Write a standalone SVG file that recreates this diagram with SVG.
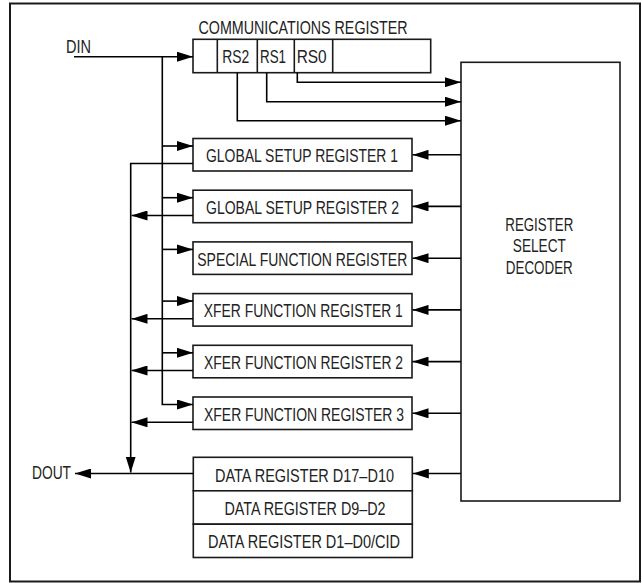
<svg xmlns="http://www.w3.org/2000/svg" width="642" height="583" viewBox="0 0 642 583">
<defs>
<style>
.box{fill:#fff;stroke:#1a1a1a;stroke-width:1.6}
.frame{fill:#fff;stroke:#1a1a1a;stroke-width:2}
.wire{fill:none;stroke:#000;stroke-width:1.6}
text{font-family:"Liberation Sans Narrow","Liberation Sans",Arial,sans-serif;font-size:18px;fill:#222}
.c{text-anchor:middle}
</style>
<marker id="ah" viewBox="0 0 16 10" refX="16" refY="5" markerWidth="16" markerHeight="10" markerUnits="userSpaceOnUse" orient="auto">
<path d="M0,0 L16,5 L0,10 z" fill="#000"/>
</marker>
</defs>
<rect class="frame" x="10" y="3.5" width="630" height="578"/>

<g id="comm-register">
<text class="c" x="303" y="34.3" textLength="209" lengthAdjust="spacingAndGlyphs">COMMUNICATIONS REGISTER</text>
<rect class="box" x="193" y="39.3" width="237.7" height="33.4"/>
<line class="box" x1="217.3" y1="39.3" x2="217.3" y2="72.7"/>
<line class="box" x1="257.3" y1="39.3" x2="257.3" y2="72.7"/>
<line class="box" x1="294.3" y1="39.3" x2="294.3" y2="72.7"/>
<line class="box" x1="332.7" y1="39.3" x2="332.7" y2="72.7"/>
<text x="222.3" y="63.3" textLength="27" lengthAdjust="spacingAndGlyphs">RS2</text>
<text x="260" y="63.3" textLength="26" lengthAdjust="spacingAndGlyphs">RS1</text>
<text x="296.7" y="63.3" textLength="30" lengthAdjust="spacingAndGlyphs">RS0</text>
</g>

<g id="din"><text x="66" y="52.5" textLength="25" lengthAdjust="spacingAndGlyphs">DIN</text></g>
<g id="dout"><text x="32" y="479" textLength="39" lengthAdjust="spacingAndGlyphs">DOUT</text></g>

<g id="decoder">
<rect class="box" x="461" y="62.3" width="159" height="438.7"/>
<text class="c" x="539.3" y="230.7" textLength="68" lengthAdjust="spacingAndGlyphs">REGISTER</text>
<text class="c" x="539.3" y="252.3" textLength="53" lengthAdjust="spacingAndGlyphs">SELECT</text>
<text class="c" x="539.3" y="273.6" textLength="67" lengthAdjust="spacingAndGlyphs">DECODER</text>
</g>

<g id="gsr1">
<rect class="box" x="193" y="138.5" width="219" height="32.5"/>
<text class="c" x="302" y="162.3" textLength="192" lengthAdjust="spacingAndGlyphs">GLOBAL SETUP REGISTER 1</text>
</g>
<g id="gsr2">
<rect class="box" x="193" y="190.2" width="219" height="32.5"/>
<text class="c" x="302.5" y="214" textLength="193" lengthAdjust="spacingAndGlyphs">GLOBAL SETUP REGISTER 2</text>
</g>
<g id="sfr">
<rect class="box" x="193" y="241.9" width="219" height="32.5"/>
<text class="c" x="302.3" y="266" textLength="210" lengthAdjust="spacingAndGlyphs">SPECIAL FUNCTION REGISTER</text>
</g>
<g id="xfer1">
<rect class="box" x="193" y="293.6" width="219" height="32.5"/>
<text class="c" x="303.3" y="316.8" textLength="199" lengthAdjust="spacingAndGlyphs">XFER FUNCTION REGISTER 1</text>
</g>
<g id="xfer2">
<rect class="box" x="193" y="345.3" width="219" height="32.5"/>
<text class="c" x="303.6" y="369.3" textLength="199" lengthAdjust="spacingAndGlyphs">XFER FUNCTION REGISTER 2</text>
</g>
<g id="xfer3">
<rect class="box" x="193" y="397" width="219" height="32.5"/>
<text class="c" x="304" y="420.5" textLength="200" lengthAdjust="spacingAndGlyphs">XFER FUNCTION REGISTER 3</text>
</g>
<g id="data-d17-d10">
<rect class="box" x="193.3" y="457.3" width="219" height="33.5"/>
<text class="c" x="304.5" y="482" textLength="179" lengthAdjust="spacingAndGlyphs">DATA REGISTER D17–D10</text>
</g>
<g id="data-d9-d2">
<rect class="box" x="193.3" y="490.8" width="219" height="33.4"/>
<text class="c" x="305" y="515" textLength="161" lengthAdjust="spacingAndGlyphs">DATA REGISTER D9–D2</text>
</g>
<g id="data-d1-d0">
<rect class="box" x="193.3" y="524.2" width="219" height="33.3"/>
<text class="c" x="304" y="548.3" textLength="192" lengthAdjust="spacingAndGlyphs">DATA REGISTER D1–D0/CID</text>
</g>

<g id="connectors">
<path class="wire" d="M74,56.7 H193" marker-end="url(#ah)"/>
<path class="wire" d="M162.3,56.7 V404.5 H193" marker-end="url(#ah)"/>
<path class="wire" d="M162.3,146 H193" marker-end="url(#ah)"/>
<path class="wire" d="M162.3,197.7 H193" marker-end="url(#ah)"/>
<path class="wire" d="M162.3,249.4 H193" marker-end="url(#ah)"/>
<path class="wire" d="M162.3,301.1 H193" marker-end="url(#ah)"/>
<path class="wire" d="M162.3,352.8 H193" marker-end="url(#ah)"/>

<path class="wire" d="M193,163.5 H130.7 V472.5" marker-end="url(#ah)"/>
<path class="wire" d="M193,215.5 H131.5" marker-end="url(#ah)"/>
<path class="wire" d="M193,318.8 H131.5" marker-end="url(#ah)"/>
<path class="wire" d="M193,370.5 H131.5" marker-end="url(#ah)"/>
<path class="wire" d="M193,422.3 H131.5" marker-end="url(#ah)"/>
<path class="wire" d="M193.3,473.5 H75" marker-end="url(#ah)"/>

<path class="wire" d="M297.3,72.7 V82.2 H461" marker-end="url(#ah)"/>
<path class="wire" d="M266.7,72.7 V101.7 H461" marker-end="url(#ah)"/>
<path class="wire" d="M237.3,72.7 V120.7 H461" marker-end="url(#ah)"/>

<path class="wire" d="M461,154.8 H412.5" marker-end="url(#ah)"/>
<path class="wire" d="M461,206.4 H412.5" marker-end="url(#ah)"/>
<path class="wire" d="M461,258.2 H412.5" marker-end="url(#ah)"/>
<path class="wire" d="M461,309.9 H412.5" marker-end="url(#ah)"/>
<path class="wire" d="M461,361.6 H412.5" marker-end="url(#ah)"/>
<path class="wire" d="M461,413.3 H412.5" marker-end="url(#ah)"/>
<path class="wire" d="M461,473.5 H412.8" marker-end="url(#ah)"/>
</g>
</svg>
